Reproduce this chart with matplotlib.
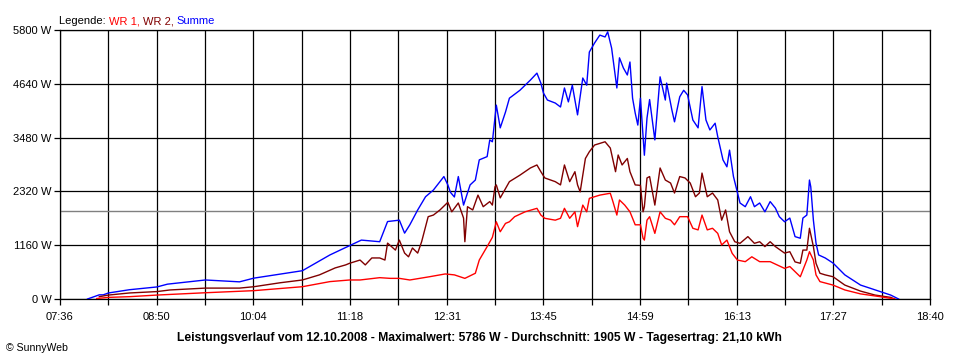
import numpy as np
import matplotlib
matplotlib.use('Agg')
from matplotlib import pyplot as plt
from matplotlib.offsetbox import TextArea, HPacker, AnchoredOffsetbox

plt.rcParams['font.family'] = ['Liberation Sans', 'DejaVu Sans']
plt.rcParams['font.size'] = 8

# Summe (blau)
summe_t = ['07:57', '08:06', '08:09', '08:13', '08:29', '08:50', '08:58', '09:27', '09:53', '10:04',
           '10:41', '11:02', '11:17', '11:26', '11:40', '11:46', '11:55', '11:59', '12:03', '12:09',
           '12:15', '12:21', '12:29', '12:32', '12:34', '12:37', '12:40', '12:44', '12:49', '12:53',
           '12:56', '13:02', '13:04', '13:06', '13:09', '13:12', '13:16', '13:19', '13:27', '13:35',
           '13:40', '13:43', '13:45', '13:48', '13:54', '13:58', '14:01', '14:04', '14:07', '14:11',
           '14:15', '14:18', '14:20', '14:24', '14:28', '14:32', '14:34', '14:37', '14:41', '14:43',
           '14:46', '14:49', '14:51', '14:53', '14:55', '14:57', '14:59', '15:02', '15:04', '15:06',
           '15:10', '15:14', '15:18', '15:19', '15:23', '15:25', '15:29', '15:32', '15:35', '15:39',
           '15:43', '15:46', '15:49', '15:52', '15:56', '15:58', '16:02', '16:05', '16:07', '16:10',
           '16:15', '16:19', '16:23', '16:26', '16:30', '16:34', '16:38', '16:42', '16:45', '16:49',
           '16:53', '16:57', '17:01', '17:03', '17:06', '17:08', '17:09', '17:11', '17:13', '17:15',
           '17:20', '17:26', '17:35', '17:47', '17:54', '18:02', '18:10', '18:16']
summe_w = [0, 90, 90, 130, 200, 260, 320, 410, 370, 450,
           610, 950, 1150, 1270, 1235, 1670, 1700, 1420, 1600, 1920,
           2205, 2350, 2640, 2460, 2300, 2200, 2640, 2025, 2460, 2565,
           3000, 3070, 3430, 3390, 4180, 3690, 4030, 4330, 4500, 4720,
           4870, 4655, 4440, 4290, 4225, 4140, 4550, 4250, 4610, 3970,
           4765, 4610, 5325, 5520, 5690, 5650, 5760, 5410, 4550, 5200,
           4980, 4830, 5110, 4330, 4010, 3750, 4330, 3100, 3900, 4300,
           3430, 4790, 4290, 4655, 4075, 3820, 4360, 4500, 4400, 3860,
           3690, 4580, 3860, 3645, 3790, 3500, 3000, 2850, 3210, 2640,
           2070, 1990, 2205, 1990, 2070, 1880, 2100, 1960, 1775, 1665,
           1745, 1345, 1310, 1745, 1810, 2565, 2420, 1700, 1205, 950,
           885, 775, 520, 300, 235, 160, 85, 0]

# WR 2 (dunkelrot)
wr2_t = ['08:06', '08:13', '08:29', '08:50', '09:00', '09:27', '09:53', '10:04', '10:24', '10:41',
         '10:54', '11:06', '11:14', '11:17', '11:25', '11:29', '11:34', '11:40', '11:44', '11:46',
         '11:52', '11:55', '11:59', '12:02', '12:05', '12:09', '12:12', '12:17', '12:21', '12:26',
         '12:32', '12:35', '12:40', '12:44', '12:45', '12:47', '12:51', '12:55', '12:59', '13:04',
         '13:06', '13:08', '13:09', '13:12', '13:19', '13:27', '13:35', '13:40', '13:43', '13:46',
         '13:54', '13:58', '14:01', '14:05', '14:09', '14:11', '14:13', '14:17', '14:20', '14:24',
         '14:28', '14:32', '14:36', '14:40', '14:42', '14:45', '14:49', '14:51', '14:55', '14:59',
         '15:01', '15:02', '15:04', '15:06', '15:10', '15:14', '15:18', '15:22', '15:25', '15:29',
         '15:33', '15:37', '15:41', '15:44', '15:46', '15:50', '15:54', '15:58', '16:01', '16:04',
         '16:07', '16:11', '16:15', '16:21', '16:26', '16:30', '16:34', '16:38', '16:42', '16:49',
         '16:53', '16:57', '17:01', '17:03', '17:06', '17:08', '17:11', '17:13', '17:16', '17:20',
         '17:26', '17:35', '17:47', '17:58', '18:10', '18:13']
wr2_w = [50, 85, 130, 160, 195, 235, 235, 265, 350, 410,
         520, 670, 735, 770, 840, 735, 885, 885, 840, 1205,
         1055, 1270, 990, 910, 1100, 990, 1235, 1775, 1810, 1920,
         2085, 1880, 2070, 1745, 1235, 1990, 1920, 2240, 1990, 2100,
         2025, 2420, 2460, 2180, 2530, 2670, 2825, 2890, 2745, 2610,
         2530, 2460, 2890, 2530, 2745, 2460, 2310, 3030, 3175, 3320,
         3355, 3390, 3255, 2745, 3105, 2890, 3030, 2745, 2460, 2450,
         1880, 1990, 2610, 2640, 2025, 2825, 2565, 2500, 2285, 2640,
         2610, 2500, 2205, 2285, 2715, 2205, 2285, 2135, 1700, 1920,
         1450, 1235, 1200, 1345, 1200, 1235, 1130, 1235, 1130, 990,
         1020, 800, 770, 1055, 1055, 1525, 1130, 770, 555, 520,
         480, 300, 170, 85, 35, 0]

# WR 1 (rot)
wr1_t = ['08:04', '08:13', '08:29', '08:50', '09:27', '10:04', '10:41', '11:02', '11:17', '11:25',
         '11:40', '11:48', '11:55', '12:03', '12:18', '12:30', '12:37', '12:45', '12:53', '12:56',
         '13:02', '13:06', '13:09', '13:12', '13:16', '13:19', '13:23', '13:31', '13:40', '13:43',
         '13:46', '13:54', '13:58', '14:01', '14:05', '14:09', '14:11', '14:15', '14:18', '14:20',
         '14:28', '14:36', '14:38', '14:41', '14:43', '14:47', '14:51', '14:55', '14:59', '15:01',
         '15:02', '15:04', '15:06', '15:10', '15:14', '15:18', '15:22', '15:25', '15:29', '15:35',
         '15:39', '15:43', '15:46', '15:50', '15:54', '15:58', '16:01', '16:05', '16:09', '16:13',
         '16:19', '16:24', '16:30', '16:38', '16:49', '16:53', '16:57', '17:01', '17:06', '17:08',
         '17:11', '17:13', '17:16', '17:26', '17:35', '17:47', '18:02', '18:13']
wr1_w = [10, 35, 50, 85, 135, 180, 265, 375, 410, 410,
         460, 445, 445, 410, 480, 540, 520, 445, 555, 840,
         1130, 1330, 1665, 1450, 1630, 1665, 1775, 1880, 1955, 1810,
         1740, 1700, 1740, 1955, 1740, 1880, 1560, 2025, 1880, 2170,
         2240, 2280, 2100, 1810, 2135, 2025, 1880, 1600, 1600, 1310,
         1270, 1700, 1775, 1415, 1880, 1740, 1700, 1600, 1775, 1775,
         1525, 1490, 1810, 1490, 1525, 1415, 1165, 1270, 985, 840,
         805, 910, 805, 805, 660, 700, 590, 480, 840, 1020,
         840, 520, 375, 300, 195, 110, 50, 0]

durchschnitt = 1905
x_labels = ['07:36', '08:50', '10:04', '11:18', '12:31', '13:45', '14:59', '16:13', '17:27', '18:40']
y_values = [0, 1160, 2320, 3480, 4640, 5800]
titel = 'Leistungsverlauf vom 12.10.2008 - Maximalwert: 5786 W - Durchschnitt: 1905 W - Tagesertrag: 21,10 kWh'


def to_min(s):
    h, m = s.split(':')
    return int(h) * 60 + int(m)


x_start, x_end = to_min('07:36'), to_min('18:40')

fig = plt.figure(figsize=(9.6, 3.6), dpi=100)
ax = fig.add_axes([60 / 960, 61 / 360, 870 / 960, 269 / 360])

ax.axhline(durchschnitt, color='#808080', lw=1, zorder=2)
ax.plot([to_min(t) for t in summe_t], summe_w, color='#0000ff', lw=1, zorder=3)
ax.plot([to_min(t) for t in wr2_t], wr2_w, color='#800000', lw=1, zorder=4)
ax.plot([to_min(t) for t in wr1_t], wr1_w, color='#ff0000', lw=1, zorder=5)

ax.set_xlim(x_start, x_end)
ax.set_ylim(0, 5800)
major = np.linspace(x_start, x_end, len(x_labels))
minor = (major[:-1] + major[1:]) / 2
ax.set_xticks(major)
ax.set_xticklabels(x_labels)
ax.set_xticks(minor, minor=True)
ax.set_yticks(y_values)
ax.set_yticklabels(['%d W' % v for v in y_values])
ax.grid(True, which='both', color='black', lw=0.9, zorder=1)
ax.set_axisbelow(True)
ax.tick_params(which='both', direction='out', length=4, width=0.9, color='black', labelsize=8)
ax.tick_params(axis='x', pad=5)
ax.tick_params(axis='y', pad=2)
for sp in ax.spines.values():
    sp.set_color('black')
    sp.set_linewidth(0.9)

# Legende als farbige Textstücke
parts = [('Legende: ', 'black'), ('WR 1, ', '#ff0000'), ('WR 2, ', '#800000'), ('Summe', '#0000ff')]
boxes = [TextArea(s, textprops=dict(color=c, fontsize=8)) for s, c in parts]
pack = HPacker(children=boxes, align='baseline', pad=0, sep=0)
ab = AnchoredOffsetbox(loc='lower left', child=pack, pad=0, borderpad=0, frameon=False,
                       bbox_to_anchor=(59 / 960, 334 / 360), bbox_transform=fig.transFigure)
fig.add_artist(ab)

fig.text(479 / 960, 22 / 360, titel, ha='center', va='center', fontsize=8.7, fontweight='bold')
fig.text(6 / 960, 12 / 360, '\u00a9 SunnyWeb', ha='left', va='center', fontsize=7.6)

fig.savefig('out.png', dpi=100, facecolor='white')
